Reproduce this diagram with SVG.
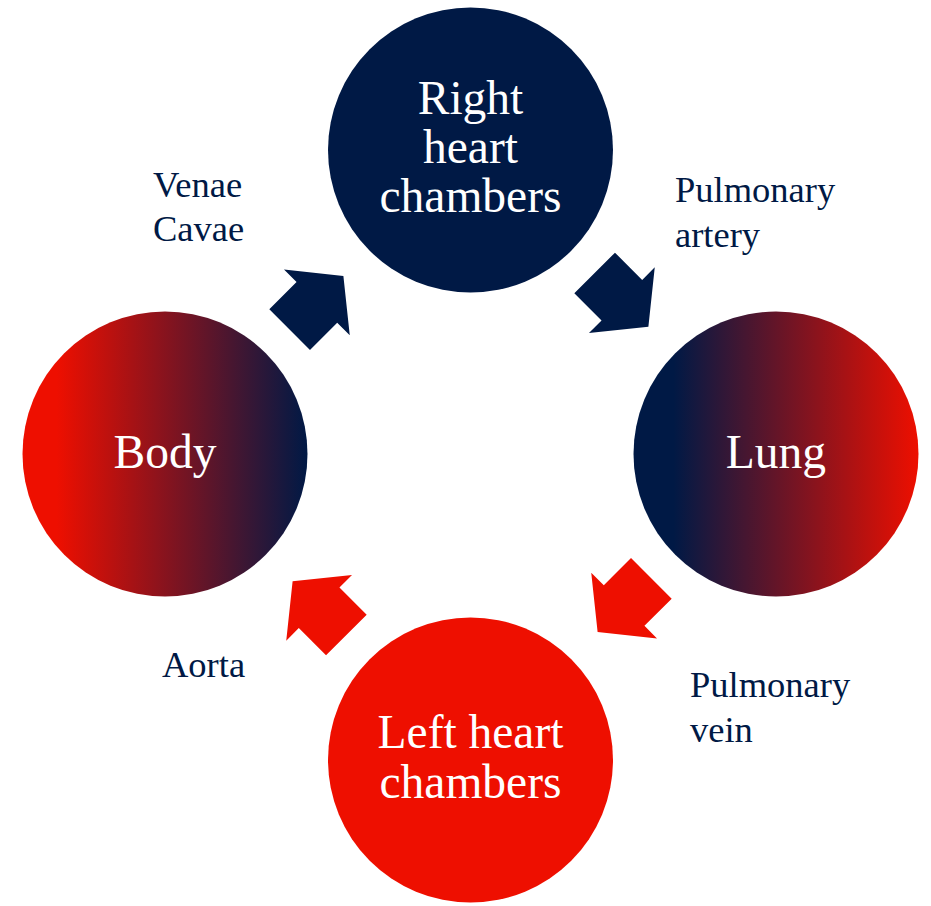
<svg xmlns="http://www.w3.org/2000/svg" xmlns:xlink="http://www.w3.org/1999/xlink" width="931" height="906" viewBox="0 0 931 906">
<defs>
<style>
.node-text{font-family:"Liberation Serif","Times New Roman",serif;font-size:47.5px;fill:#ffffff;text-anchor:middle}
.label{font-family:"Liberation Serif","Times New Roman",serif;font-size:36.5px;fill:#001945}
.navy{fill:#001945}
.red{fill:#EE0F00}
</style>
<linearGradient id="gBody" x1="0" y1="0" x2="1" y2="0">
<stop offset="0.12" stop-color="#EE0F00"/>
<stop offset="1" stop-color="#001945"/>
</linearGradient>
<linearGradient id="gLung" x1="0" y1="0" x2="1" y2="0">
<stop offset="0.14" stop-color="#001945"/>
<stop offset="1" stop-color="#EE0F00"/>
</linearGradient>
<path id="arrow" d="M0,-28.75 L38.5,-28.75 L38.5,-46.5 L76,0 L38.5,46.5 L38.5,28.75 L0,28.75 Z"/>
</defs>
<rect width="931" height="906" fill="#ffffff"/>
<g id="connectors">
<use href="#arrow" class="navy" transform="translate(289.65,329.65) rotate(-45)"/>
<use href="#arrow" class="navy" transform="translate(594.65,273) rotate(45)"/>
<use href="#arrow" class="red" transform="translate(651.35,578.3) rotate(135)"/>
<use href="#arrow" class="red" transform="translate(346.35,635) rotate(-135)"/>
<text class="label" x="153" y="197">Venae</text>
<text class="label" x="153" y="241">Cavae</text>
<text class="label" x="675" y="202">Pulmonary</text>
<text class="label" x="675" y="246.5">artery</text>
<text class="label" x="690" y="697">Pulmonary</text>
<text class="label" x="690" y="741.5">vein</text>
<text class="label" x="162" y="677">Aorta</text>
</g>
<g id="node-right-heart">
<circle cx="470.5" cy="150" r="142.5" class="navy"/>
<text class="node-text" x="470.5" y="113.5">Right</text>
<text class="node-text" x="470.5" y="163">heart</text>
<text class="node-text" x="470.5" y="212">chambers</text>
</g>
<g id="node-lung">
<circle cx="776" cy="454" r="142.5" fill="url(#gLung)"/>
<text class="node-text" x="776" y="468">Lung</text>
</g>
<g id="node-left-heart">
<circle cx="470.5" cy="760" r="142.5" class="red"/>
<text class="node-text" x="470.5" y="747.5">Left heart</text>
<text class="node-text" x="470.5" y="797.5">chambers</text>
</g>
<g id="node-body">
<circle cx="165" cy="454" r="142.5" fill="url(#gBody)"/>
<text class="node-text" x="165" y="468">Body</text>
</g>
</svg>
